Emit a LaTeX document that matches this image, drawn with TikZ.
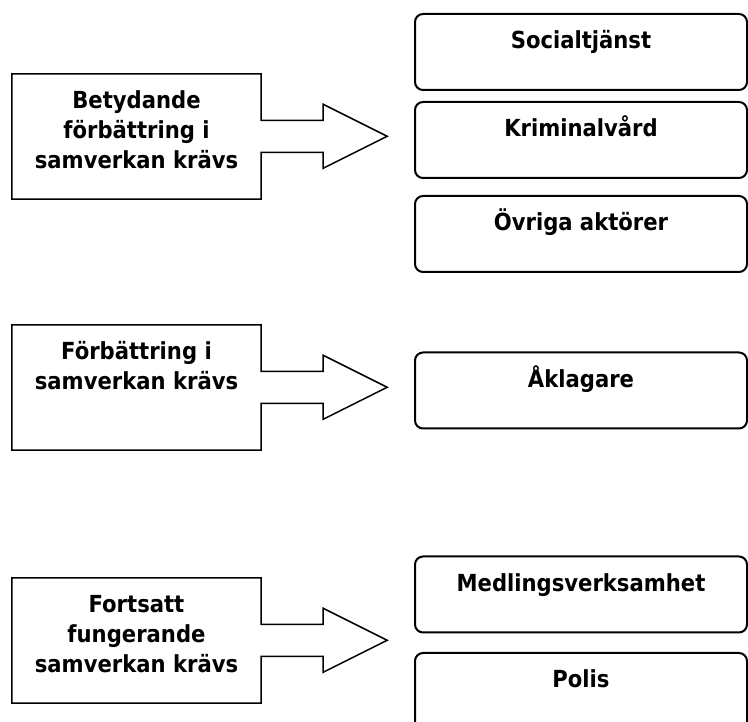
\documentclass[tikz,border=0pt]{standalone}
\usepackage{fontspec}
\setmainfont{DejaVu Sans Condensed}
\usepackage{tikz}

\begin{document}
\begin{tikzpicture}[x=1pt,y=1pt]
\tikzstyle{every node}+=[inner sep=0pt]
\tikzstyle{callbox}=[minimum width=249pt, align=center,
  font=\fontsize{23.5}{30}\selectfont\bfseries]
\tikzstyle{callout}=[black, line width=1.5pt, line join=miter]
\tikzstyle{actor}=[draw, rounded corners=8pt, line width=2pt, minimum width=332pt,
  text height=35pt, text depth=41pt, font=\fontsize{23.5}{30}\selectfont\bfseries]

\clip (0,0) rectangle (748,722);
\fill [white] (0,0) rectangle (748,722);

% left side
\node [callbox, text height=95pt, text depth=30pt] (betyd) at (136.5,585.5) {Betydande\\förbättring i\\samverkan krävs};
\node [callbox, text height=65pt, text depth=60pt] (forb) at (136.5,334.5) {Förbättring i\\samverkan krävs};
\node [callbox, text height=95pt, text depth=30pt] (forts) at (136.5,81.5) {Fortsatt\\fungerande\\samverkan krävs};

\foreach \n in {betyd,forb,forts}
  \draw [callout] (\n.north west) -- (\n.north east) -- ++(0,-46.5) -- ++(62,0)
    -- ++(0,16) -- ++(64,-32) -- ++(-64,-32) -- ++(0,16) -- ++(-62,0)
    -- (\n.south east) -- (\n.south west) -- cycle;

% right side
\node [actor] (social) at (581,670) {Socialtjänst};
\node [actor] (krim) at (581,582) {Kriminalvård};
\node [actor] (ovriga) at (581,488) {Övriga aktörer};
\node [actor] (aklag) at (581,331.5) {Åklagare};
\node [actor] (medl) at (581,127.5) {Medlingsverksamhet};
\node [actor] (polis) at (581,31) {Polis};
\end{tikzpicture}
\end{document}
